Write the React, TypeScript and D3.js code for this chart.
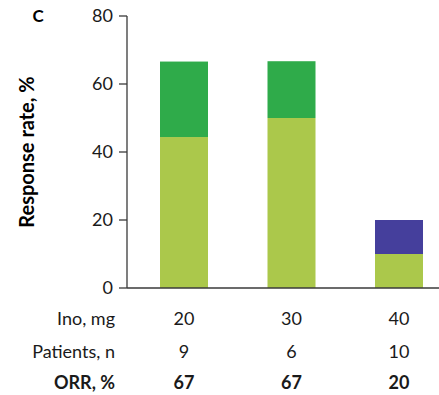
import React from "react";
import * as d3 from "d3";

// doses and the stacked response parts (percent of patients)
const doses = ["20", "30", "40"];
const patients = ["9", "6", "10"];
const orr = ["67", "67", "20"];
const lightPart = [44.4, 50, 10];
const darkPart = [22.2, 16.7, 0];
const purplePart = [0, 0, 10];
const yTicks = [0, 20, 40, 60, 80];

const colors = ["#abc84b", "#2fab4a", "#453f9c"];
const font = "Lato, 'Open Sans', sans-serif";

const App = () => {
  const width = 439;
  const height = 395;

  const rows = doses.map((d, i) => ({
    dose: d,
    light: lightPart[i],
    dark: darkPart[i],
    purple: purplePart[i],
  }));
  const stack = d3.stack<any>().keys(["light", "dark", "purple"]);
  const series = stack(rows);

  const x = d3.scalePoint().domain(doses).range([184, 399]);
  const barW = 48;
  const y = d3.scaleLinear().domain([0, 80]).range([288, 16]);
  const axisX = 127;

  return (
    <svg
      width={width}
      height={height}
      style={{ position: "absolute", left: 0, top: 0, fontFamily: font }}
    >
      <text x={38} y={22} fontSize={17} fontWeight="bold" textAnchor="middle">
        C
      </text>
      <text
        transform={`translate(34, ${y(40)}) rotate(-90)`}
        fontSize={20}
        fontWeight="bold"
        textAnchor="middle"
      >
        Response rate, %
      </text>

      {series.map((s, si) =>
        s.map((d, i) =>
          d[1] - d[0] > 0 ? (
            <rect
              key={`${si}-${i}`}
              x={(x(doses[i]) as number) - barW / 2}
              y={y(d[1])}
              width={barW}
              height={y(d[0]) - y(d[1])}
              fill={colors[si]}
            />
          ) : null
        )
      )}

      {/* y axis */}
      <line x1={axisX} x2={axisX} y1={y(80)} y2={y(0)} stroke="#3a3a3a" strokeWidth={1.3} />
      <line x1={axisX} x2={439} y1={y(0)} y2={y(0)} stroke="#3a3a3a" strokeWidth={1.3} />
      {yTicks.map((t) => (
        <g key={t}>
          <line x1={axisX - 8} x2={axisX} y1={y(t)} y2={y(t)} stroke="#3a3a3a" strokeWidth={1.3} />
          <text x={113} y={y(t)} dy="0.35em" fontSize={18} textAnchor="end" fill="#1a1a1a">
            {t}
          </text>
        </g>
      ))}

      {/* table below */}
      <text x={115} y={325} fontSize={18} textAnchor="end" fill="#1a1a1a">Ino, mg</text>
      <text x={115} y={358} fontSize={18} textAnchor="end" fill="#1a1a1a">Patients, n</text>
      <text x={115} y={389} fontSize={18} textAnchor="end" fontWeight="bold" fill="#1a1a1a">ORR, %</text>
      {doses.map((d, i) => (
        <g key={d} fontSize={18} textAnchor="middle" fill="#1a1a1a">
          <text x={x(d)} y={325}>{d}</text>
          <text x={x(d)} y={358}>{patients[i]}</text>
          <text x={x(d)} y={389} fontWeight="bold">{orr[i]}</text>
        </g>
      ))}
    </svg>
  );
};

export default App;
